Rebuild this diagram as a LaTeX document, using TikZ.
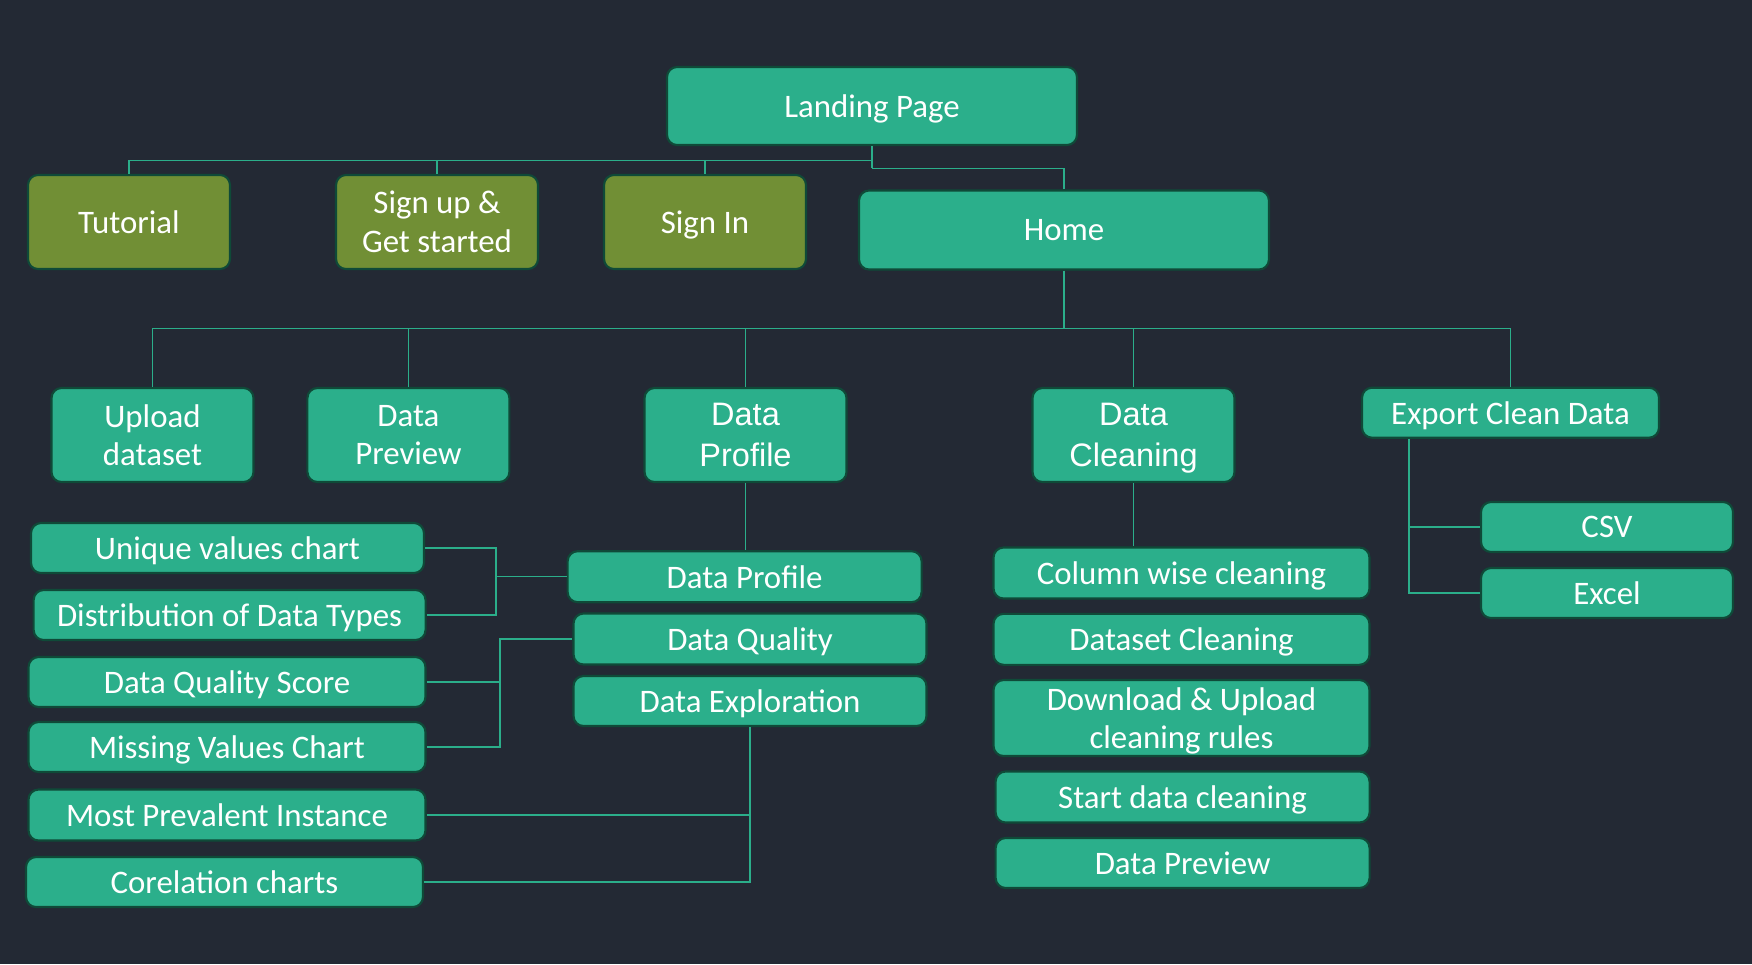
\documentclass[tikz,border=0pt]{standalone}
\usepackage{fontspec}
\setmainfont{Carlito}
\newfontfamily\arialfont{Liberation Sans}
\definecolor{bg}{HTML}{232934}
\definecolor{boxteal}{HTML}{2BAF8B}
\definecolor{boxolive}{HTML}{718F35}
\definecolor{boxrim}{HTML}{0F4A38}
\definecolor{linkteal}{HTML}{2BAE8A}
\begin{document}
\begin{tikzpicture}[x=0.02cm,y=-0.02cm]

    % ============================
    % Styles and background
    % ============================

    \tikzstyle{box}=[rectangle,rounded corners=0.2cm,draw=boxrim,line width=1.2pt,
                     fill=boxteal,text=white,align=center,inner sep=0pt,text depth=0pt,
                     font=\fontsize{18.7}{22}\selectfont]
    \tikzstyle{olive}=[box,fill=boxolive]
    \tikzstyle{big}=[font=\arialfont\fontsize{18.5}{23}\selectfont]
    \tikzstyle{link}=[draw=linkteal,line width=0.8pt]

    \fill[bg] (0,0) rectangle (1752,964);
    \useasboundingbox (0,0) rectangle (1752,964);

    % ============================
    % Top: Landing Page
    % ============================

    \node[box,minimum width=8.2cm,minimum height=1.56cm] (land) at (872,106) {Landing Page};

    \node[olive,minimum width=4.04cm,minimum height=1.88cm] (tut) at (129,222) {Tutorial};
    \node[olive,minimum width=4.04cm,minimum height=1.88cm] (signup) at (437,222) {Sign up \&\\Get started};
    \node[olive,minimum width=4.04cm,minimum height=1.88cm] (signin) at (705,222) {Sign In};
    \node[box,minimum width=8.2cm,minimum height=1.58cm] (home) at (1064,230) {Home};

    \coordinate (top1) at (872,160.7);
    \coordinate (top2) at (872,168.3);
    \draw[link] (land.south) -- (top2);
    \foreach \n in {tut,signup,signin}
        \draw[link] (\n.north) |- (top1);
    \draw[link] (home.north) |- (top2);

    % ============================
    % Middle: Home menu
    % ============================

    \node[box,minimum width=4.04cm,minimum height=1.88cm] (upl) at (152.5,435) {Upload\\dataset};
    \node[box,minimum width=4.04cm,minimum height=1.88cm] (prev) at (408.4,435) {Data\\Preview};
    \node[box,big,minimum width=4.04cm,minimum height=1.88cm] (prof) at (745.5,435) {Data\\Profile};
    \node[box,big,minimum width=4.04cm,minimum height=1.88cm] (clean) at (1133.5,435) {Data\\Cleaning};
    \node[box,minimum width=5.94cm,minimum height=1.0cm] (export) at (1510.5,412.7) {Export Clean Data};

    \coordinate (mid) at (1064,328.7);
    \draw[link] (home.south) -- (mid);
    \foreach \n in {upl,prev,prof,clean,export}
        \draw[link] (\n.north) |- (mid);

    % ============================
    % Data Profile branch
    % ============================

    \node[box,minimum width=7.08cm,minimum height=1.02cm] (profsub) at (744.6,576.7) {Data Profile};
    \node[box,minimum width=7.06cm,minimum height=1.02cm] (qual) at (750,639) {Data Quality};
    \node[box,minimum width=7.06cm,minimum height=1.0cm] (expl) at (750,701) {Data Exploration};

    \node[box,minimum width=7.86cm,minimum height=1.0cm] (uniq) at (227.5,548) {Unique values chart};
    \node[box,minimum width=7.84cm,minimum height=1.0cm] (dist) at (229.6,615) {Distribution of Data Types};
    \node[box,minimum width=7.94cm,minimum height=1.0cm] (dqs) at (227,682) {Data Quality Score};
    \node[box,minimum width=7.94cm,minimum height=1.0cm] (miss) at (227,747) {Missing Values Chart};
    \node[box,minimum width=7.94cm,minimum height=1.02cm] (mpi) at (227,815) {Most Prevalent Instance};
    \node[box,minimum width=7.94cm,minimum height=1.0cm] (corr) at (224.5,882) {Corelation charts};

    \draw[link] (prof.south) -- (prof.south |- profsub.north);
    \coordinate (bra) at (496,577);
    \draw[link] (uniq.east) -| (bra) |- (profsub.west);
    \draw[link] (dist.east) -| (bra);
    \coordinate (brb) at (500,639);
    \draw[link] (dqs.east) -| (brb) |- (qual.west);
    \draw[link] (miss.east) -| (brb);
    \draw[link] (mpi.east) -| (expl.south);
    \draw[link] (corr.east) -| (expl.south);

    % ============================
    % Data Cleaning branch
    % ============================

    \node[box,minimum width=7.52cm,minimum height=1.02cm] (colw) at (1181.5,573) {Column wise cleaning};
    \node[box,minimum width=7.52cm,minimum height=1.02cm] (dsc) at (1181.5,639.3) {Dataset Cleaning};
    \node[box,minimum width=7.52cm,minimum height=1.52cm] (rules) at (1181.5,718) {Download \& Upload\\cleaning rules};
    \node[box,minimum width=7.48cm,minimum height=1.02cm] (start) at (1182.6,797) {Start data cleaning};
    \node[box,minimum width=7.48cm,minimum height=1.0cm] (prev2) at (1182.6,863) {Data Preview};

    \draw[link] (clean.south) -- (clean.south |- colw.north);

    % ============================
    % Export branch
    % ============================

    \node[box,minimum width=5.04cm,minimum height=1.0cm] (csv) at (1607,527) {CSV};
    \node[box,minimum width=5.04cm,minimum height=1.0cm] (excel) at (1607,593) {Excel};

    \coordinate (exj) at ([xshift=0.96cm]export.south west);
    \draw[link] (exj) |- (csv.west);
    \draw[link] (exj) |- (excel.west);

\end{tikzpicture}
\end{document}
